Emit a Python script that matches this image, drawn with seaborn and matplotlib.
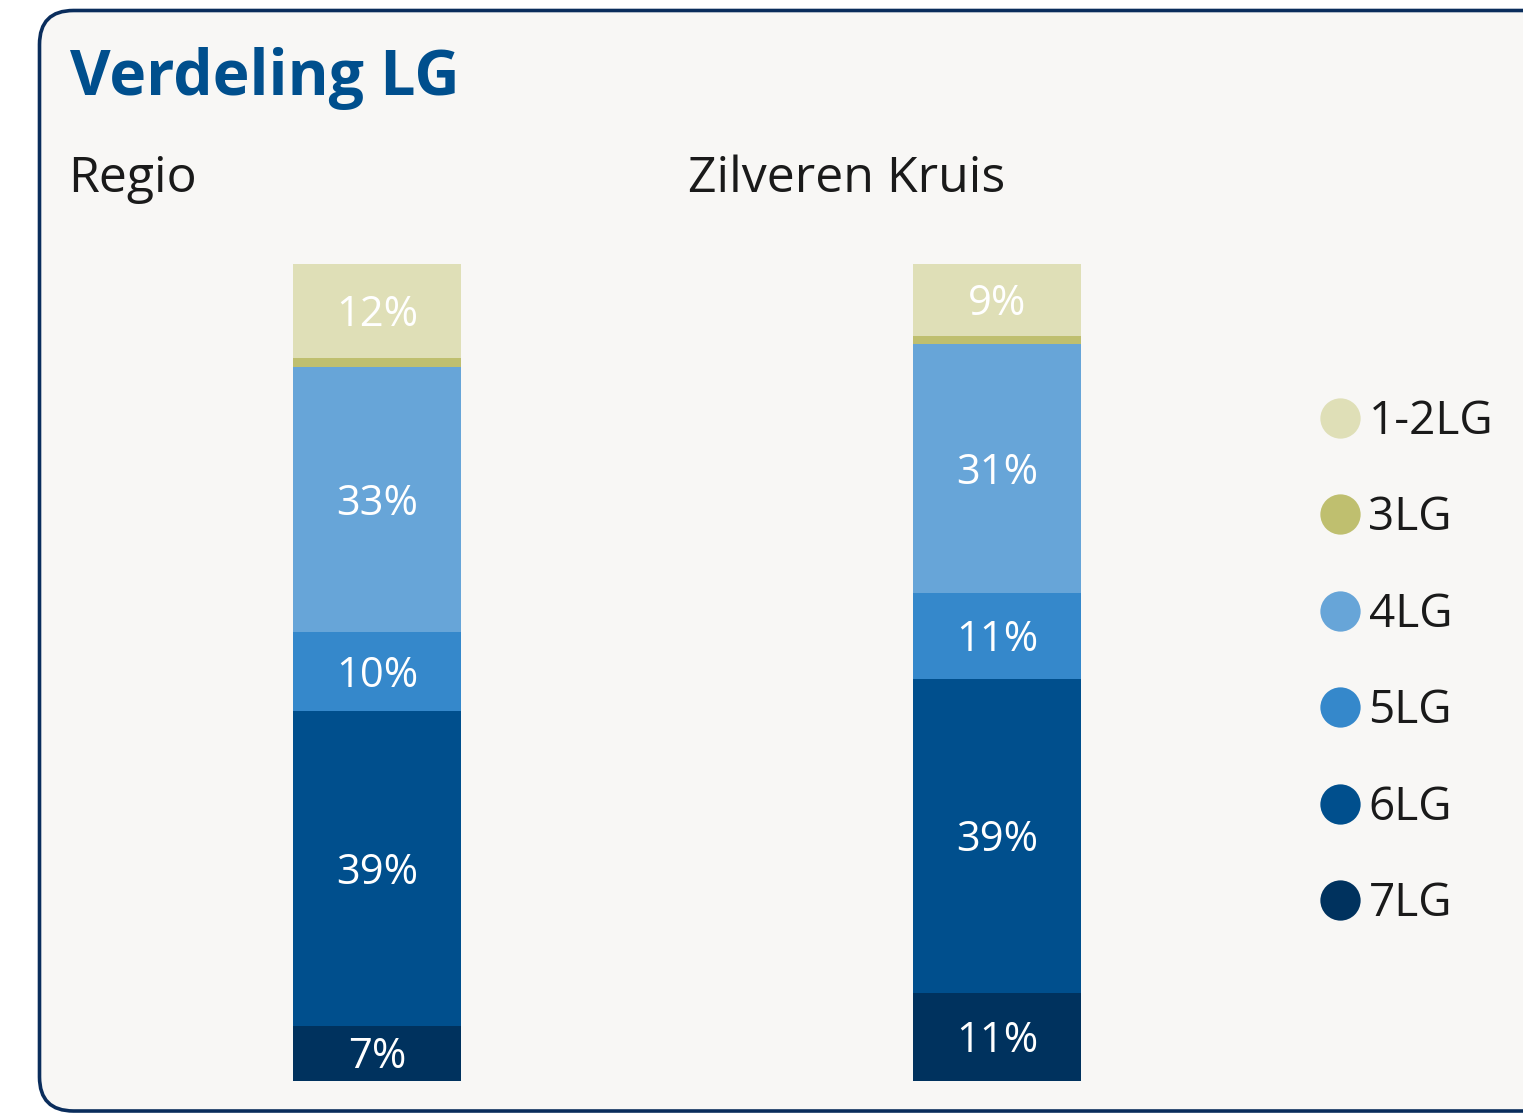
import numpy as np
import pandas as pd
import matplotlib.pyplot as plt
import seaborn as sns
from matplotlib.patches import FancyBboxPatch
from matplotlib.lines import Line2D

sns.set_theme(style="white")
plt.rcParams['font.family'] = ['Open Sans', 'DejaVu Sans']

# data (bottom to top of the stack), percentages
groups = ["Regio", "Zilveren Kruis"]
categories = ["7LG", "6LG", "5LG", "4LG", "3LG", "1-2LG"]
regio = [6.7, 38.5, 9.7, 32.5, 1.1, 11.5]
zilveren_kruis = [10.7, 38.5, 10.5, 30.5, 1.0, 8.8]
colors = ["#00325e", "#004f8d", "#3588cb", "#67a5d8", "#bfbf6f", "#dfdfb7"]

W, H = 1523, 1113
fig = plt.figure(figsize=(W / 100, H / 100), dpi=100, facecolor="white")

# background card with rounded border (pixel coords)
bg = fig.add_axes([0, 0, 1, 1])
bg.set_xlim(0, W)
bg.set_ylim(0, H)
bg.set_axis_off()
bg.add_patch(FancyBboxPatch((39.5, 2), 1600, 1100.5,
                            boxstyle="round,pad=0,rounding_size=34",
                            facecolor="#f8f7f5", edgecolor="#0a2d5c", linewidth=2.6))

fig.text(70 / W, 1 - 95 / H, "Verdeling LG", fontsize=45, fontweight="bold",
         color="#004f8d", ha="left", va="baseline")

bar_top, bar_bot = 264, 1080.5
for left, name, vals in zip([67, 687], groups, [regio, zilveren_kruis]):
    ax = fig.add_axes([left / W, 1 - bar_bot / H, 620 / W, (bar_bot - bar_top) / H])
    df = pd.DataFrame({"klasse": categories, "waarde": vals})
    df["top"] = df["waarde"].cumsum()
    df["mid"] = df["top"] - df["waarde"] / 2
    for i in reversed(range(len(df))):
        sns.barplot(x=[name], y=[df["top"][i]], color=colors[i], width=0.271,
                    saturation=1, linewidth=0, ax=ax)
    for v, m in zip(df["waarde"], df["mid"]):
        if v >= 3:
            ax.annotate(f"{int(v + 0.5)}%", (0, m), xytext=(0, -15),
                        textcoords="offset pixels", color="white", fontsize=30,
                        ha="center", va="baseline")
    ax.set_xlim(-0.5, 0.5)
    ax.set_ylim(0, 100)
    ax.set_axis_off()
    fig.text((left + 1) / W, 1 - 192 / H, name, fontsize=36, color="#1a1a1a",
             ha="left", va="baseline")

handles = [Line2D([], [], marker="o", linestyle="", markersize=29,
                  markerfacecolor=c, markeredgewidth=0) for c in colors[::-1]]
fig.legend(handles, categories[::-1], loc="center left",
           bbox_to_anchor=(1319 / W, 1 - 663 / H), frameon=False,
           fontsize=33, handlelength=0.9, handletextpad=0.18,
           labelspacing=1.1, borderpad=0, borderaxespad=0,
           labelcolor="#1a1a1a")

fig.savefig("out.png", dpi=100, facecolor="white")
